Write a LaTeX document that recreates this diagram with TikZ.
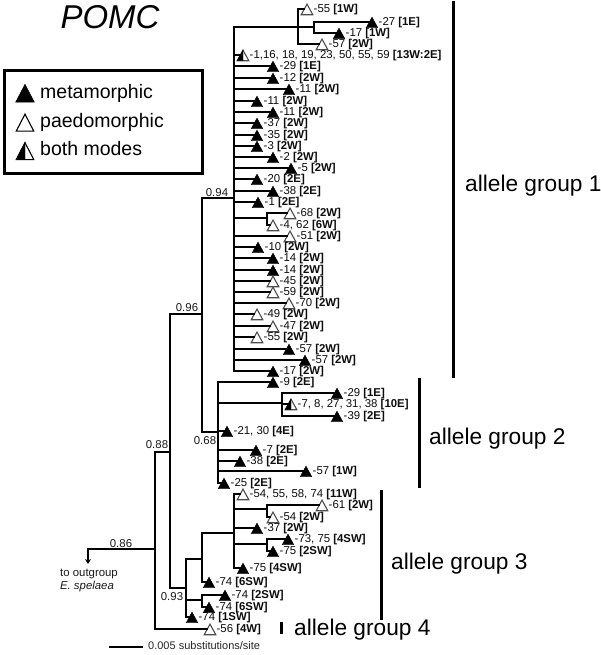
\documentclass[tikz,border=0pt]{standalone}
\usepackage{fontspec}
\setmainfont{Liberation Sans}
\usetikzlibrary{arrows.meta}
\tikzset{
  br/.style={line width=1.6pt,black,line cap=rect},
  tm/.style={fill=black,draw=black,line width=0.4pt,line join=miter},
  tp/.style={fill=white,draw=black!70,line width=1.1pt,line join=miter},
  tipbox/.style={rectangle,inner sep=0pt,minimum width=5.8pt,minimum height=8pt},
  tiplab/.style={anchor=west,inner sep=0pt,font=\fontsize{11.4}{12}\selectfont,text=black!95},
  sup/.style={inner sep=0pt,font=\fontsize{11.4}{12}\selectfont,text=black!90},
  barbox/.style={rectangle,fill=black,inner sep=0pt,minimum width=3pt},
  grouplab/.style={anchor=west,inner sep=0pt,font=\fontsize{22.7}{24}\selectfont},
  legtext/.style={anchor=base west,inner sep=0pt,font=\fontsize{19.5}{22}\selectfont},
}
% triangle: x, y, half width, height
\newcommand{\TriPath}[4]{(#1,#2) ++(-#3,#4*0.54) -- ++(2*#3,0) -- ++(-#3,-#4) -- cycle}
\newcommand{\TriLeft}[4]{(#1,#2) ++(-#3,#4*0.54) -- ++(#3,0) -- ++(0,-#4) -- cycle}
\newcommand{\Tip}[6]{%
  \path[#2] \TriPath{#3}{#4}{5.8}{10.6};
  \node[tipbox] (#1) at (#3,#4) {};
  \node[tiplab] (#1l) at (#3,#4) [xshift=6.5pt,yshift=-1pt] {#5 \textbf{#6}};
}
\newcommand{\TipB}[5]{%
  \path[tp] \TriPath{#2}{#3}{5.8}{10.6};
  \path[tm] \TriLeft{#2}{#3}{5.8}{10.6};
  \node[tipbox] (#1) at (#2,#3) {};
  \node[tiplab] (#1l) at (#2,#3) [xshift=6.5pt,yshift=-1pt] {#4 \textbf{#5}};
}
\begin{document}
\begin{tikzpicture}[x=1pt,y=-1pt]
\useasboundingbox (0,0) rectangle (600,655);
\fill[white] (0,0) rectangle (600,655);

% title
\node[inner sep=0pt,font=\fontsize{33}{36}\selectfont\itshape] (title) at (110,17) {POMC};

% legend
\node[rectangle,draw=black,line width=3.6pt,fill=white,minimum width=198pt,minimum height=103pt,inner sep=0pt] (legend) at (103.5,122) {};
\path[tm] \TriPath{25}{92.5}{9.4}{18};
\path[tp,draw=black,line width=1.1pt] \TriPath{25}{122}{8.8}{17};
\path[tp,draw=black,line width=1.1pt] \TriPath{25}{150.5}{8.8}{17};
\path[tm] \TriLeft{25}{150.5}{8.8}{17};
\node[legtext] (leg1) at (40,98.5) {metamorphic};
\node[legtext] (leg2) at (40,127.5) {paedomorphic};
\node[legtext] (leg3) at (40,156) {both modes};

% group bars and labels
\node[barbox,minimum height=377pt] (bar1) at (453,189.5) {};
\node[barbox,minimum height=110pt] (bar2) at (419,433) {};
\node[barbox,minimum height=130pt] (bar3) at (381,555) {};
\node[barbox,minimum height=12pt] (bar4) at (281,628) {};
\node[grouplab] (g1l) at (465,186) {allele group 1};
\node[grouplab] (g2l) at (429,439) {allele group 2};
\node[grouplab] (g3l) at (391,564) {allele group 3};
\node[grouplab] (g4l) at (294,630) {allele group 4};

% tips: allele group 1
\Tip{a55}{tp}{307}{9}{-55}{[1W]}
\Tip{a27}{tm}{372}{22}{-27}{[1E]}
\Tip{a17}{tm}{339}{33}{-17}{[1W]}
\Tip{a57}{tp}{322}{44}{-57}{[2W]}
\TipB{a01}{243}{55}{-1,16, 18, 19, 23, 50, 55, 59}{[13W:2E]}
\Tip{a29}{tm}{273}{66}{-29}{[1E]}
\Tip{a12}{tm}{273}{78}{-12}{[2W]}
\Tip{a11a}{tm}{289}{89}{-11}{[2W]}
\Tip{a11b}{tm}{257}{101}{-11}{[2W]}
\Tip{a11c}{tm}{273}{112}{-11}{[2W]}
\Tip{a37}{tm}{257}{123}{-37}{[2W]}
\Tip{a35}{tm}{257}{135}{-35}{[2W]}
\Tip{a3}{tm}{257}{146}{-3}{[2W]}
\Tip{a2}{tm}{273}{157}{-2}{[2W]}
\Tip{a5}{tm}{291}{168}{-5}{[2W]}
\Tip{a20}{tm}{257}{179}{-20}{[2E]}
\Tip{a38}{tm}{273}{191}{-38}{[2E]}
\Tip{a1}{tm}{258}{202}{-1}{[2E]}
\Tip{a68}{tp}{290}{213}{-68}{[2W]}
\Tip{a4}{tp}{273}{225}{-4, 62}{[6W]}
\Tip{a51}{tp}{290}{236}{-51}{[2W]}
\Tip{a10}{tm}{258}{247}{-10}{[2W]}
\Tip{a14a}{tm}{273}{258}{-14}{[2W]}
\Tip{a14b}{tm}{273}{270}{-14}{[2W]}
\Tip{a45}{tp}{273}{281}{-45}{[2W]}
\Tip{a59}{tp}{273}{292}{-59}{[2W]}
\Tip{a70}{tp}{289}{303}{-70}{[2W]}
\Tip{a49}{tp}{257}{314}{-49}{[2W]}
\Tip{a47}{tp}{273}{326}{-47}{[2W]}
\Tip{a55b}{tp}{257}{337}{-55}{[2W]}
\Tip{a57b}{tm}{289}{349}{-57}{[2W]}
\Tip{a57c}{tm}{305}{360}{-57}{[2W]}
\Tip{a17b}{tm}{273}{371}{-17}{[2W]}

% tips: allele group 2
\Tip{b9}{tm}{273}{382}{-9}{[2E]}
\Tip{b29}{tm}{337}{393}{-29}{[1E]}
\TipB{b7}{291}{404}{-7, 8, 27, 31, 38}{[10E]}
\Tip{b39}{tm}{337}{416}{-39}{[2E]}
\Tip{b21}{tm}{227}{431}{-21, 30}{[4E]}
\Tip{b7b}{tm}{256}{450}{-7}{[2E]}
\Tip{b38}{tm}{240}{461}{-38}{[2E]}
\Tip{b57}{tm}{306}{471}{-57}{[1W]}
\Tip{b25}{tm}{224}{483}{-25}{[2E]}

% tips: allele groups 3 and 4
\Tip{c54}{tp}{243}{494}{-54, 55, 58, 74}{[11W]}
\Tip{c61}{tp}{322}{505}{-61}{[2W]}
\Tip{c54b}{tp}{273}{517}{-54}{[2W]}
\Tip{c37}{tm}{257}{528}{-37}{[2W]}
\Tip{c73}{tm}{288}{539}{-73, 75}{[4SW]}
\Tip{c75}{tm}{273}{551}{-75}{[2SW]}
\Tip{c75b}{tm}{243}{568}{-75}{[4SW]}
\Tip{c74a}{tm}{209}{582}{-74}{[6SW]}
\Tip{c74b}{tm}{225}{595}{-74}{[2SW]}
\Tip{c74c}{tm}{209}{607}{-74}{[6SW]}
\Tip{c74d}{tm}{192}{617}{-74}{[1SW]}
\Tip{d56}{tp}{210}{629}{-56}{[4W]}

% internal nodes
\coordinate (n94) at (234,198);
\coordinate (n1a) at (298,27);
\coordinate (n1b) at (314,27);
\coordinate (n1c) at (267,218);
\coordinate (n96) at (202,314);
\coordinate (n68) at (218,432);
\coordinate (n2b) at (282,403);
\coordinate (n97) at (170,452);
\coordinate (n86) at (155,549);
\coordinate (n93) at (186,588);
\coordinate (n3a) at (202,559);
\coordinate (n3b) at (202,600);
\coordinate (n3c) at (234,533);
\coordinate (n3d) at (267,509);
\coordinate (n3e) at (267,544);
\coordinate (out) at (88,564);

% branches
\draw[br] (n86) |- (n97);
\draw[br] (n86) |- (d56);
\draw[br,-{Stealth[length=5pt,width=6pt]}] (n86) -| (out);
\draw[br] (n97) |- (n96);
\draw[br] (n97) |- (n93);
\draw[br] (n96) |- (n94);
\draw[br] (n96) |- (n68);
\foreach \t in {a01,a29,a12,a11a,a11b,a11c,a37,a35,a3,a2,a5,a20,a38,a1,a51,a10,a14a,a14b,a45,a59,a70,a49,a47,a55b,a57b,a57c,a17b}
  \draw[br] (n94) |- (\t);
\draw[br] (n94) |- (n1b);
\draw[br] (n94) |- (n1c);
\draw[br] (n1a) |- (a55);
\draw[br] (n1a) |- (a57);
\draw[br] (n1b) |- (a27);
\draw[br] (n1b) |- (a17);
\draw[br] (n1c) |- (a68);
\draw[br] (n1c) |- (a4);
\foreach \t in {b9,n2b,b21,b7b,b38,b57,b25}
  \draw[br] (n68) |- (\t);
\foreach \t in {b29,b7,b39}
  \draw[br] (n2b) |- (\t);
\draw[br] (n93) |- (n3a);
\draw[br] (n93) |- (n3b);
\draw[br] (n93) |- (c74d);
\draw[br] (n3a) |- (n3c);
\draw[br] (n3a) |- (c74a);
\draw[br] (n3b) |- (c74b);
\draw[br] (n3b) |- (c74c);
\foreach \t in {c54,n3d,c37,n3e,c75b}
  \draw[br] (n3c) |- (\t);
\draw[br] (n3d) |- (c61);
\draw[br] (n3d) |- (c54b);
\draw[br] (n3e) |- (c73);
\draw[br] (n3e) |- (c75);

% support values
\node[sup] (s94) at (217,193) {0.94};
\node[sup] (s96) at (187,308) {0.96};
\node[sup] (s68) at (205,441) {0.68};
\node[sup] (s88) at (157,445) {0.88};
\node[sup] (s86) at (121,544) {0.86};
\node[sup] (s93) at (172,597) {0.93};

% outgroup and scale
\node[sup] (o1) at (89,574) {to outgroup};
\node[sup] (o2) at (87,587) {\itshape E. spelaea};
\coordinate (sc1) at (109,647);
\coordinate (sc2) at (143,647);
\draw[br,line cap=butt] (sc1) -- (sc2);
\node[anchor=west,inner sep=0pt,font=\fontsize{11}{12}\selectfont,text=black!85] (sc) at (148,646) {0.005 substitutions/site};
\end{tikzpicture}
\end{document}
